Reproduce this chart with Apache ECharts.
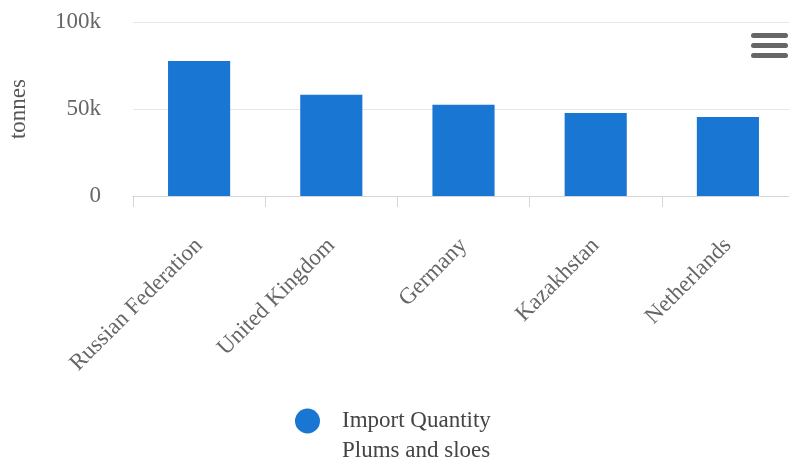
<!DOCTYPE html>
<html>
<head>
<meta charset="utf-8">
<script src="https://cdn.jsdelivr.net/npm/echarts@6/dist/echarts.min.js"></script>
<style>
html,body{margin:0;padding:0;background:#fff;}
#main{width:789px;height:461px;}
</style>
</head>
<body>
<div id="main"></div>
<script>
const categories = ['Russian Federation', 'United Kingdom', 'Germany', 'Kazakhstan', 'Netherlands'];
const importQuantity = [77600, 58200, 52400, 47700, 45400];
const seriesName = 'Import Quantity\nPlums and sloes';
const yTicks = [0, 50000, 100000];
const yTickLabels = ['0', '50k', '100k'];

const chart = echarts.init(document.getElementById('main'), null, {renderer: 'canvas'});
const serif = '"Liberation Serif", "Times New Roman", serif';
chart.setOption({
  animation: false,
  grid: {left: 133, width: 661, top: 22, bottom: 265, containLabel: false, outerBoundsMode: 'none'},
  legend: {
    data: [seriesName],
    left: 290, top: 371,
    icon: 'circle',
    itemWidth: 27, itemHeight: 25,
    formatter: function (name) {
      const lines = name.split('\n');
      return '\n' + lines.map(function (l) { return '{a|' + l + '}'; }).join('\n');
    },
    textStyle: {
      fontFamily: serif, fontSize: 23, color: '#444', lineHeight: 30,
      rich: {a: {fontFamily: serif, fontSize: 23, color: '#444', lineHeight: 30, padding: [0, 0, 0, 16]}}
    }
  },
  xAxis: {
    type: 'category',
    data: categories,
    axisLine: {show: true, lineStyle: {color: '#d6d6d6', width: 1}},
    axisTick: {show: true, length: 11, lineStyle: {color: '#d6d6d6'}},
    axisLabel: {rotate: 45, margin: 46, fontFamily: serif, fontSize: 23, color: '#666', interval: 0}
  },
  yAxis: {
    type: 'value',
    min: yTicks[0], max: yTicks[yTicks.length - 1], interval: yTicks[1] - yTicks[0],
    name: 'tonnes',
    nameLocation: 'middle',
    nameRotate: 90,
    nameGap: 103,
    nameTextStyle: {fontFamily: serif, fontSize: 23, color: '#555'},
    axisLine: {show: false},
    axisTick: {show: false},
    splitLine: {lineStyle: {color: '#e6e6e6', width: 1}},
    axisLabel: {
      margin: 32, fontFamily: serif, fontSize: 23, color: '#666',
      formatter: function (v) { const i = yTicks.indexOf(v); return i >= 0 ? yTickLabels[i] : ''; }
    }
  },
  series: [{
    name: seriesName,
    type: 'bar',
    data: importQuantity,
    barWidth: '47%',
    itemStyle: {color: '#1976d2'}
  }],
  graphic: [
    {type: 'rect', shape: {x: 751, y: 33, width: 37, height: 5, r: 2.5}, style: {fill: '#666'}},
    {type: 'rect', shape: {x: 751, y: 43, width: 37, height: 5, r: 2.5}, style: {fill: '#666'}},
    {type: 'rect', shape: {x: 751, y: 53, width: 37, height: 5, r: 2.5}, style: {fill: '#666'}}
  ]
});
</script>
</body>
</html>
